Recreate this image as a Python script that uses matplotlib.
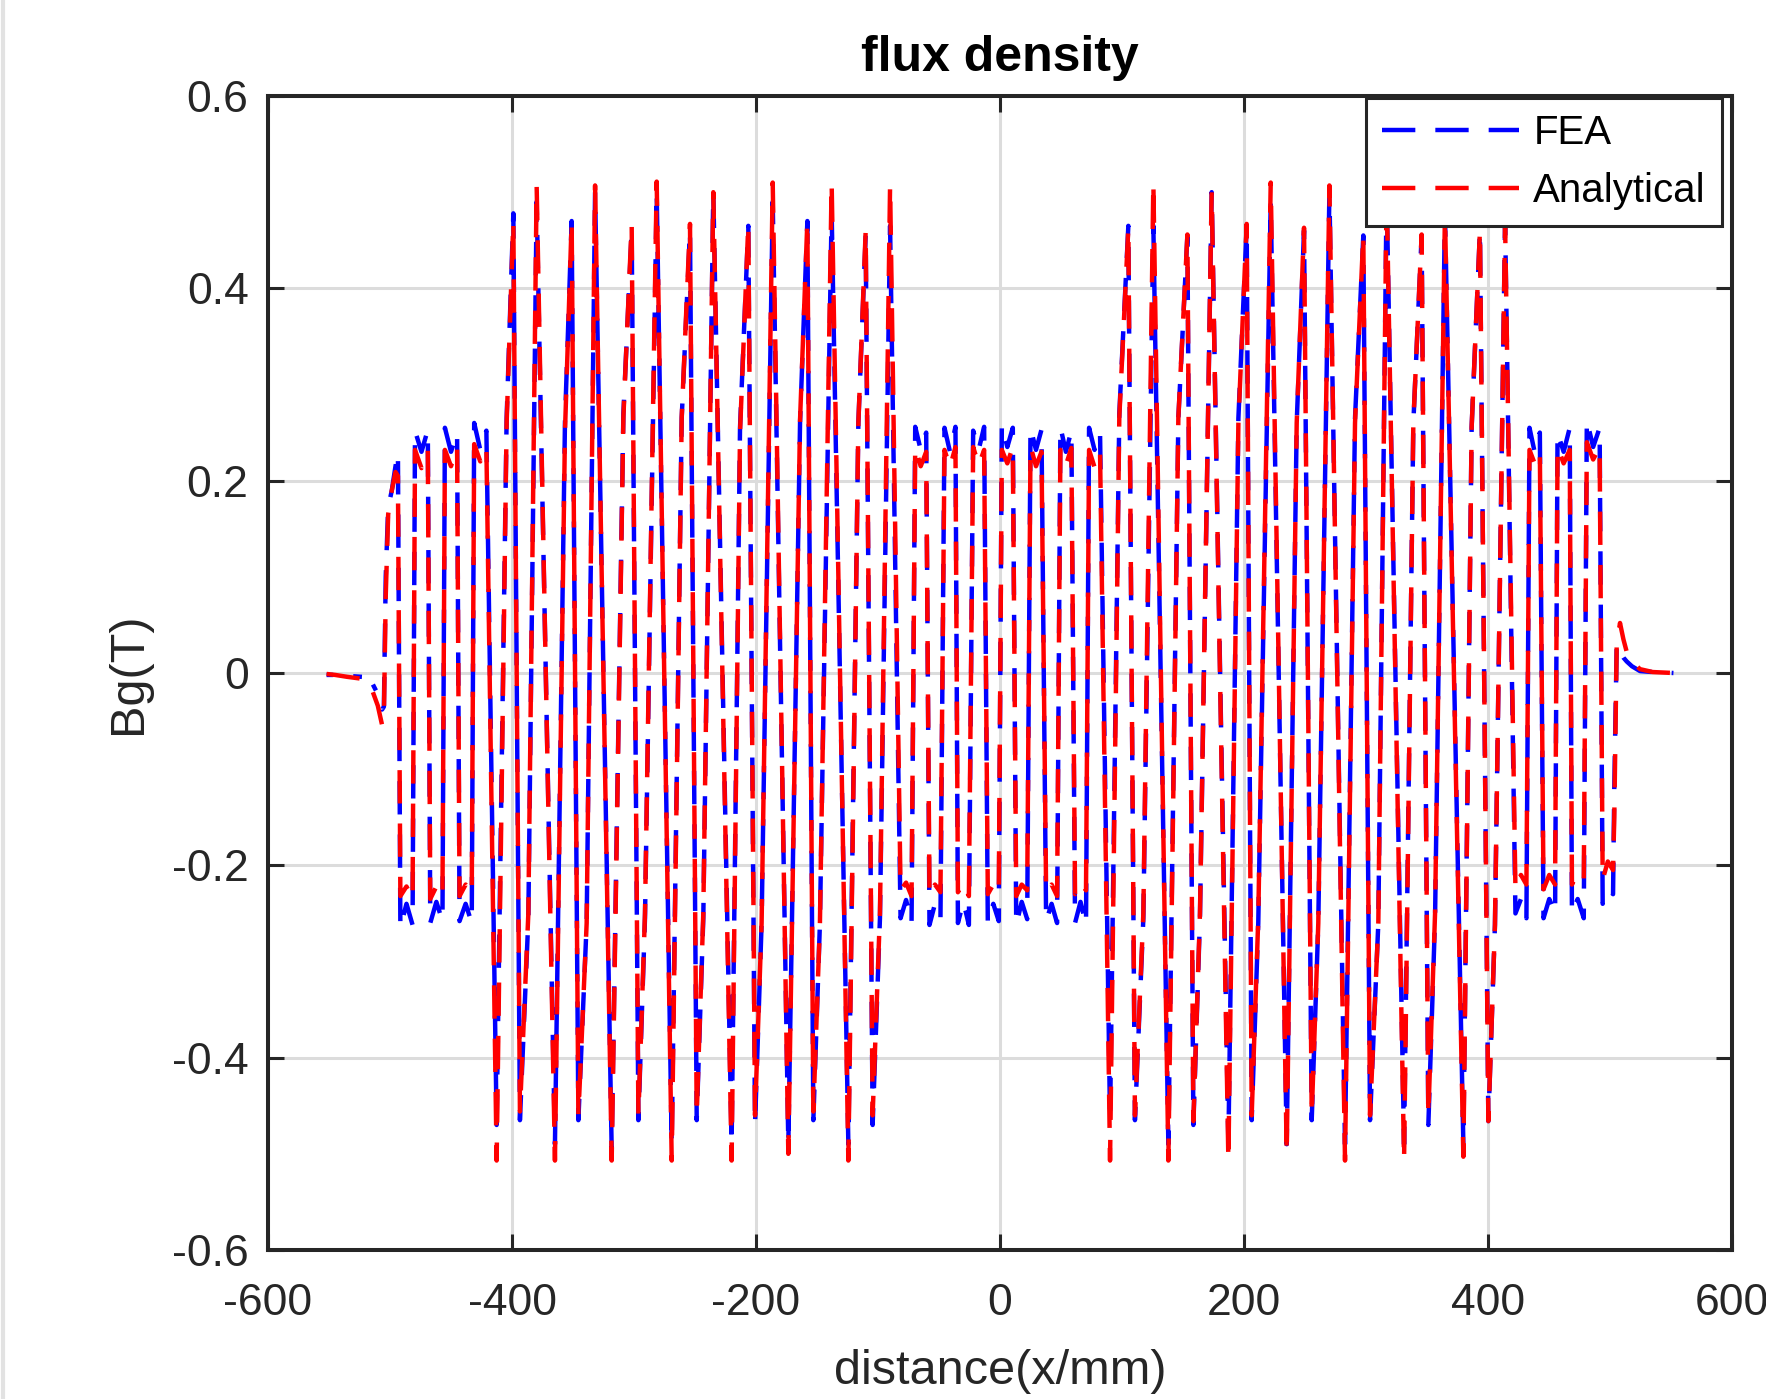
import numpy as np
import matplotlib
matplotlib.use("Agg")
import matplotlib.pyplot as plt
from matplotlib.lines import Line2D

plt.rcParams["font.family"] = ["Liberation Sans", "DejaVu Sans"]
plt.rcParams["axes.unicode_minus"] = False

nan = np.nan

# --- values, section by section (x in mm, Bg in T) ---

# left end: leakage tail, a gap, then the first partial pole
tail_left_x = [-552, -545, -535, -523, nan, -514, -510, -506.5, -505, -503.5, -501.5, -498.5, -495.5, -493.5]
tail_left_fea = [-0.002, -0.002, -0.003, -0.004, nan, -0.012, -0.022, -0.038, -0.035, 0.10, 0.172, 0.19, 0.215, 0.229]
tail_left_ana = [-0.001, -0.002, -0.004, -0.006, nan, -0.020, -0.034, -0.054, -0.045, 0.08, 0.165, 0.19, 0.209, 0.205]

# left low-amplitude poles (each plateau: edge, middle, edge)
low_left_x = [-491.5, -486.5, -481.5, -479.5, -474.2, -469.0, -467.0, -462.0, -457.0,
              -455.0, -450.0, -445.0, -443.0, -438.0, -433.0, -431.0, -426.0, -421.0]
low_left_fea = [-0.265, -0.24, -0.262, 0.252, 0.23, 0.253, -0.26, -0.238, -0.258,
                0.255, 0.23, 0.25, -0.258, -0.24, -0.26, 0.26, 0.232, 0.252]
low_left_ana = [-0.232, -0.222, -0.235, 0.232, 0.213, 0.232, -0.235, -0.222, -0.232,
                0.232, 0.215, 0.235, -0.232, -0.22, -0.23, 0.238, 0.22, 0.235]

# left high-amplitude zone, per cycle: trough, shoulder, peak, trough, shoulder, peak
high_left_x = [-412.6, -404.4, -398.9, -393.5, -386.6, -379.8,
               -364.8, -356.6, -351.1, -345.6, -338.8, -331.9,
               -318.3, -308.7, -301.9, -296.4, -291.0, -281.4,
               -269.1, -260.9, -254.1, -248.6, -243.2, -235.0,
               -220.0, -213.1, -206.3, -200.8, -195.4, -186.3,
               -173.5, -163.9, -157.9, -153.0, -147.6, -138.0,
               -124.3, -116.1, -110.1, -104.4, -98.4, -90.1]
high_left_fea = [-0.47, 0.265, 0.478, -0.465, -0.255, 0.49,
                 -0.49, 0.26, 0.47, -0.465, -0.26, 0.50,
                 -0.495, 0.27, 0.46, -0.465, -0.255, 0.50,
                 -0.49, 0.265, 0.46, -0.465, -0.255, 0.50,
                 -0.49, 0.255, 0.465, -0.47, -0.26, 0.49,
                 -0.49, 0.26, 0.47, -0.465, -0.26, 0.48,
                 -0.49, 0.26, 0.455, -0.47, -0.255, 0.465]
high_left_ana = [-0.507, 0.26, 0.47, -0.456, -0.25, 0.507,
                 -0.507, 0.25, 0.47, -0.46, -0.26, 0.507,
                 -0.507, 0.266, 0.467, -0.46, -0.25, 0.511,
                 -0.507, 0.266, 0.467, -0.46, -0.25, 0.50,
                 -0.507, 0.25, 0.467, -0.46, -0.26, 0.51,
                 -0.50, 0.263, 0.47, -0.456, -0.26, 0.51,
                 -0.507, 0.26, 0.46, -0.46, -0.25, 0.507]

# middle low-amplitude poles
low_mid_x = [-81.5, -77.0, -72.5, -69.5, -65.0, -60.5, -57.8, -53.3, -48.8,
             -45.5, -41.0, -36.5, -34.5, -30.0, -25.5, -22.0, -17.5, -13.0,
             -10.0, -5.5, -1.0, 1.5, 6.0, 10.5, 13.3, 17.8, 22.3,
             25.0, 29.5, 34.0, 37.8, 42.3, 46.8, 49.5, 54.0, 58.5,
             61.5, 66.0, 70.5, 73.0, 77.5, 82.0]
low_mid_fea = [-0.255, -0.236, -0.26, 0.256, 0.232, 0.25, -0.262, -0.24, -0.255,
               0.255, 0.23, 0.256, -0.26, -0.238, -0.262, 0.252, 0.232, 0.256,
               -0.26, -0.24, -0.258, 0.258, 0.235, 0.255, -0.262, -0.238, -0.256,
               0.255, 0.232, 0.253, -0.258, -0.24, -0.26, 0.256, 0.23, 0.252,
               -0.26, -0.238, -0.262, 0.255, 0.232, 0.25]
low_mid_ana = [-0.226, -0.218, -0.232, 0.235, 0.215, 0.23, -0.232, -0.22, -0.228,
               0.232, 0.214, 0.235, -0.228, -0.218, -0.232, 0.235, 0.216, 0.232,
               -0.23, -0.22, -0.228, 0.232, 0.218, 0.235, -0.232, -0.22, -0.226,
               0.236, 0.215, 0.23, -0.228, -0.22, -0.232, 0.232, 0.216, 0.234,
               -0.23, -0.218, -0.226, 0.232, 0.214, 0.23]

# right high-amplitude zone
high_right_x = [90.2, 97.8, 105.2, 110.6, 117.5, 125.7,
                138.0, 146.2, 153.6, 158.5, 163.9, 173.5,
                187.2, 195.4, 202.2, 206.3, 211.7, 221.9,
                235.0, 243.2, 249.2, 255.5, 260.9, 270.0,
                282.8, 291.0, 297.8, 303.3, 310.1, 316.9,
                331.2, 338.8, 345.6, 351.1, 356.6, 364.7,
                379.8, 386.6, 393.4, 400.3, 405.7, 414.0]
high_right_fea = [-0.465, 0.27, 0.465, -0.465, -0.255, 0.465,
                  -0.49, 0.265, 0.455, -0.47, -0.255, 0.50,
                  -0.49, 0.265, 0.465, -0.465, -0.26, 0.49,
                  -0.49, 0.26, 0.46, -0.465, -0.26, 0.50,
                  -0.49, 0.265, 0.455, -0.465, -0.26, 0.50,
                  -0.49, 0.26, 0.455, -0.47, -0.255, 0.48,
                  -0.49, 0.256, 0.46, -0.466, -0.262, 0.47]
high_right_ana = [-0.507, 0.266, 0.463, -0.46, -0.25, 0.51,
                  -0.507, 0.266, 0.456, -0.466, -0.25, 0.50,
                  -0.507, 0.26, 0.467, -0.46, -0.255, 0.51,
                  -0.50, 0.26, 0.463, -0.46, -0.26, 0.507,
                  -0.507, 0.26, 0.456, -0.46, -0.26, 0.50,
                  -0.507, 0.26, 0.456, -0.46, -0.25, 0.478,
                  -0.503, 0.256, 0.46, -0.466, -0.262, 0.467]

# right low-amplitude poles
low_right_x = [422.5, 427.0, 431.5, 434.0, 438.2, 442.5, 445.5, 450.2, 455.0,
               457.0, 462.0, 467.0, 468.8, 473.5, 478.5, 481.0, 486.2, 491.5,
               494.0, 498.2, 502.5]
low_right_fea = [-0.25, -0.235, -0.255, 0.255, 0.23, 0.25, -0.255, -0.235, -0.25,
                 0.25, 0.23, 0.255, -0.25, -0.235, -0.255, 0.263, 0.235, 0.255,
                 -0.24, -0.225, -0.23]
low_right_ana = [-0.225, -0.21, -0.22, 0.232, 0.218, 0.23, -0.225, -0.21, -0.22,
                 0.235, 0.218, 0.232, -0.22, -0.208, -0.215, 0.24, 0.222, 0.235,
                 -0.215, -0.196, -0.205]

# right end tail
tail_right_x = [503.5, 505.5, 508.2, 511.0, 513.7, 518.0, 524.6, 535.0, 552.0]
tail_right_fea = [-0.12, 0.03, 0.022, 0.016, 0.012, 0.007, 0.002, 0.001, 0.0]
tail_right_ana = [-0.15, 0.03, 0.052, 0.035, 0.022, 0.012, 0.004, 0.001, 0.0]

x_ticks = [-600, -400, -200, 0, 200, 400, 600]
x_tick_labels = ["-600", "-400", "-200", "0", "200", "400", "600"]
y_ticks = [-0.6, -0.4, -0.2, 0, 0.2, 0.4, 0.6]
y_tick_labels = ["-0.6", "-0.4", "-0.2", "0", "0.2", "0.4", "0.6"]

x = np.concatenate([tail_left_x, low_left_x, high_left_x, low_mid_x,
                    high_right_x, low_right_x, tail_right_x])
fea = np.concatenate([tail_left_fea, low_left_fea, high_left_fea, low_mid_fea,
                      high_right_fea, low_right_fea, tail_right_fea])
ana = np.concatenate([tail_left_ana, low_left_ana, high_left_ana, low_mid_ana,
                      high_right_ana, low_right_ana, tail_right_ana])

W, H = 1766, 1399
fig = plt.figure(figsize=(W / 100, H / 100), dpi=100)
ax = fig.add_axes([268 / W, 1 - 1250 / H, 1464 / W, 1154 / H])

dark = "#262626"
lw = 3.2
dash = (7.5, 4.5)
ax.plot(x, fea, color="#0000ff", lw=lw, linestyle=(6, dash))
ax.plot(x, ana, color="#ff0000", lw=lw, linestyle=(0, dash))

ax.set_xlim(-600, 600)
ax.set_ylim(-0.6, 0.6)
ax.set_xticks(x_ticks)
ax.set_xticklabels(x_tick_labels)
ax.set_yticks(y_ticks)
ax.set_yticklabels(y_tick_labels)
ax.grid(True, color="#dcdcdc", lw=2.2)
ax.set_axisbelow(True)
ax.tick_params(direction="in", length=11.5, width=2.2, top=True, right=True,
               labelsize=32, colors=dark)
ax.tick_params(axis="y", pad=14)
ax.tick_params(axis="x", pad=24)
for sp in ax.spines.values():
    sp.set_linewidth(2.9)
    sp.set_color(dark)

ax.set_title("flux density", fontsize=36, fontweight="bold", pad=18)
ax.set_xlabel("distance(x/mm)", fontsize=35, color=dark, labelpad=18)
ax.set_ylabel("Bg(T)", fontsize=35, color=dark, labelpad=15)

# legend handles without dash offset, so both show clean dashes
handles = [Line2D([], [], color="#0000ff", lw=lw, linestyle=(0, dash)),
           Line2D([], [], color="#ff0000", lw=lw, linestyle=(0, dash))]
leg = ax.legend(handles, ["FEA", "Analytical"], loc="upper right",
                bbox_to_anchor=(1722 / W, 1 - 98 / H),
                bbox_transform=fig.transFigure, borderaxespad=0, fontsize=29,
                frameon=True, fancybox=False, edgecolor=dark, framealpha=1,
                handlelength=3.4, handletextpad=0.35, borderpad=0.4, labelspacing=0.5)
leg.get_frame().set_linewidth(2.2)

fig.add_artist(Line2D([0.0015, 0.0015], [0, 1], transform=fig.transFigure,
                      color="#e2e2e2", lw=3))

fig.savefig("out.png", dpi=100)
